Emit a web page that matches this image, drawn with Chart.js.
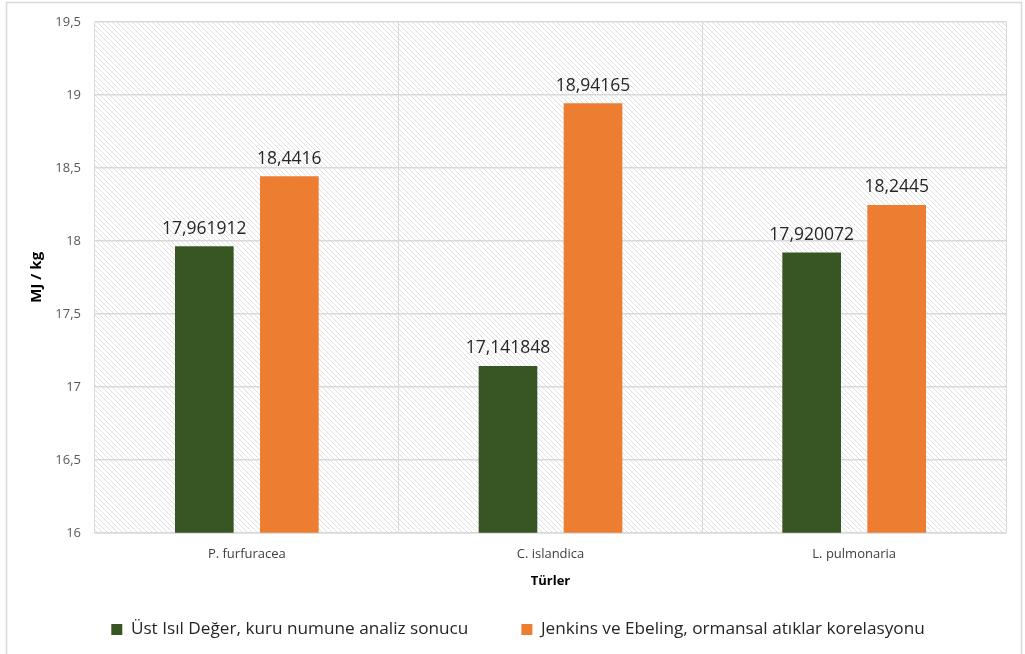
<!DOCTYPE html>
<html>
<head>
<meta charset="utf-8">
<script src="https://cdn.jsdelivr.net/npm/chart.js@4"></script>
<style>
  html, body { margin: 0; padding: 0; background: #fff; }
  #wrap { position: relative; width: 1025px; height: 654px; }
</style>
</head>
<body>
<div id="wrap"><canvas id="chart" width="1025" height="654"></canvas></div>
<script>
// data
const categories = ['P. furfuracea', 'C. islandica', 'L. pulmonaria'];
const seriesNames = ['Üst Isıl Değer, kuru numune analiz sonucu', 'Jenkins ve Ebeling, ormansal atıklar korelasyonu'];
const measured = [17.961912, 17.141848, 17.920072];
const jenkins = [18.4416, 18.94165, 18.2445];
const yTicks = [16, 16.5, 17, 17.5, 18, 18.5, 19, 19.5];

const fontFamily = "'Open Sans', 'Liberation Sans', sans-serif";

function commaNum(v) {
    return String(v).replace('.', ',');
}

// tarama deseni
function hatchPattern(ctx) {
    const c = document.createElement('canvas');
    c.width = 5; c.height = 5;
    const p = c.getContext('2d');
    p.fillStyle = '#ffffff';
    p.fillRect(0, 0, 5, 5);
    p.strokeStyle = '#e0e0e0';
    p.lineWidth = 1;
    p.beginPath();
    for (let k = -5; k <= 10; k += 5) {
        p.moveTo(k, 0);
        p.lineTo(k + 5, 5);
    }
    p.stroke();
    return ctx.createPattern(c, 'repeat');
}

const plotBg = {
    id: 'plotBg',
    afterLayout(chart) {
        // legend biraz sağa
        chart.legend.left += 12;
        chart.legend.right += 12;
    },
    beforeDraw(chart) {
        const { ctx, chartArea: a } = chart;
        ctx.save();
        ctx.strokeStyle = '#d9d9d9';
        ctx.lineWidth = 1.5;
        ctx.strokeRect(6.5, 2.5, 1015, 660);
        ctx.fillStyle = hatchPattern(ctx);
        ctx.fillRect(a.left, a.top, a.right - a.left, a.bottom - a.top);
        ctx.restore();
    }
};

const valueLabels = {
    id: 'valueLabels',
    afterDatasetsDraw(chart) {
        const ctx = chart.ctx;
        ctx.save();
        ctx.font = "17.5px " + fontFamily;
        ctx.fillStyle = '#262626';
        ctx.textAlign = 'center';
        ctx.textBaseline = 'bottom';
        chart.data.datasets.forEach((ds, i) => {
            chart.getDatasetMeta(i).data.forEach((bar, j) => {
                ctx.fillText(commaNum(ds.data[j]), bar.x, bar.y - 9);
            });
        });
        ctx.restore();
    }
};

new Chart(document.getElementById('chart').getContext('2d'), {
    type: 'bar',
    data: {
        labels: categories,
        datasets: [
            {
                label: seriesNames[0],
                data: measured,
                backgroundColor: '#375623',
                categoryPercentage: 0.56,
                barPercentage: 0.69
            },
            {
                label: seriesNames[1],
                data: jenkins,
                backgroundColor: '#ed7d31',
                categoryPercentage: 0.56,
                barPercentage: 0.69
            }
        ]
    },
    options: {
        responsive: false,
        animation: false,
        layout: { padding: { left: 6, right: 19, top: 18, bottom: 6 } },
        scales: {
            x: {
                grid: { color: '#d9d9d9', lineWidth: 1, offset: true, drawTicks: false },
                border: { color: '#d9d9d9', width: 1.5 },
                ticks: { color: '#404040', font: { family: fontFamily, size: 13 }, padding: 14 },
                title: {
                    display: true, text: 'Türler', color: '#000',
                    font: { family: fontFamily, size: 13, weight: 'bold' }, padding: { top: 4, bottom: 22 }
                },
                afterFit(scale) { scale.height = 78; }
            },
            y: {
                min: 16, max: 19.5,
                afterBuildTicks(scale) { scale.ticks = yTicks.map(v => ({ value: v })); },
                grid: { color: '#d9d9d9', lineWidth: 1.5, drawTicks: false },
                border: { display: false },
                ticks: {
                    color: '#595959', font: { family: fontFamily, size: 13 }, padding: 14,
                    callback: v => commaNum(v)
                },
                title: {
                    display: true, text: 'MJ / kg', color: '#000',
                    font: { family: fontFamily, size: 15, weight: 'bold' }, padding: { top: 22, bottom: 0 }
                },
                afterFit(scale) { scale.width = 89; }
            }
        },
        plugins: {
            legend: {
                position: 'bottom',
                labels: {
                    boxWidth: 11, boxHeight: 11, padding: 10,
                    color: '#262626',
                    font: { family: fontFamily, size: 17.2 },
                    generateLabels(chart) {
                        const items = Chart.defaults.plugins.legend.labels.generateLabels(chart);
                        items[0].text = items[0].text + '\u2003\u2003\u2002';
                        return items;
                    }
                }
            },
            tooltip: { enabled: false }
        }
    },
    plugins: [plotBg, valueLabels]
});
</script>
</body>
</html>
